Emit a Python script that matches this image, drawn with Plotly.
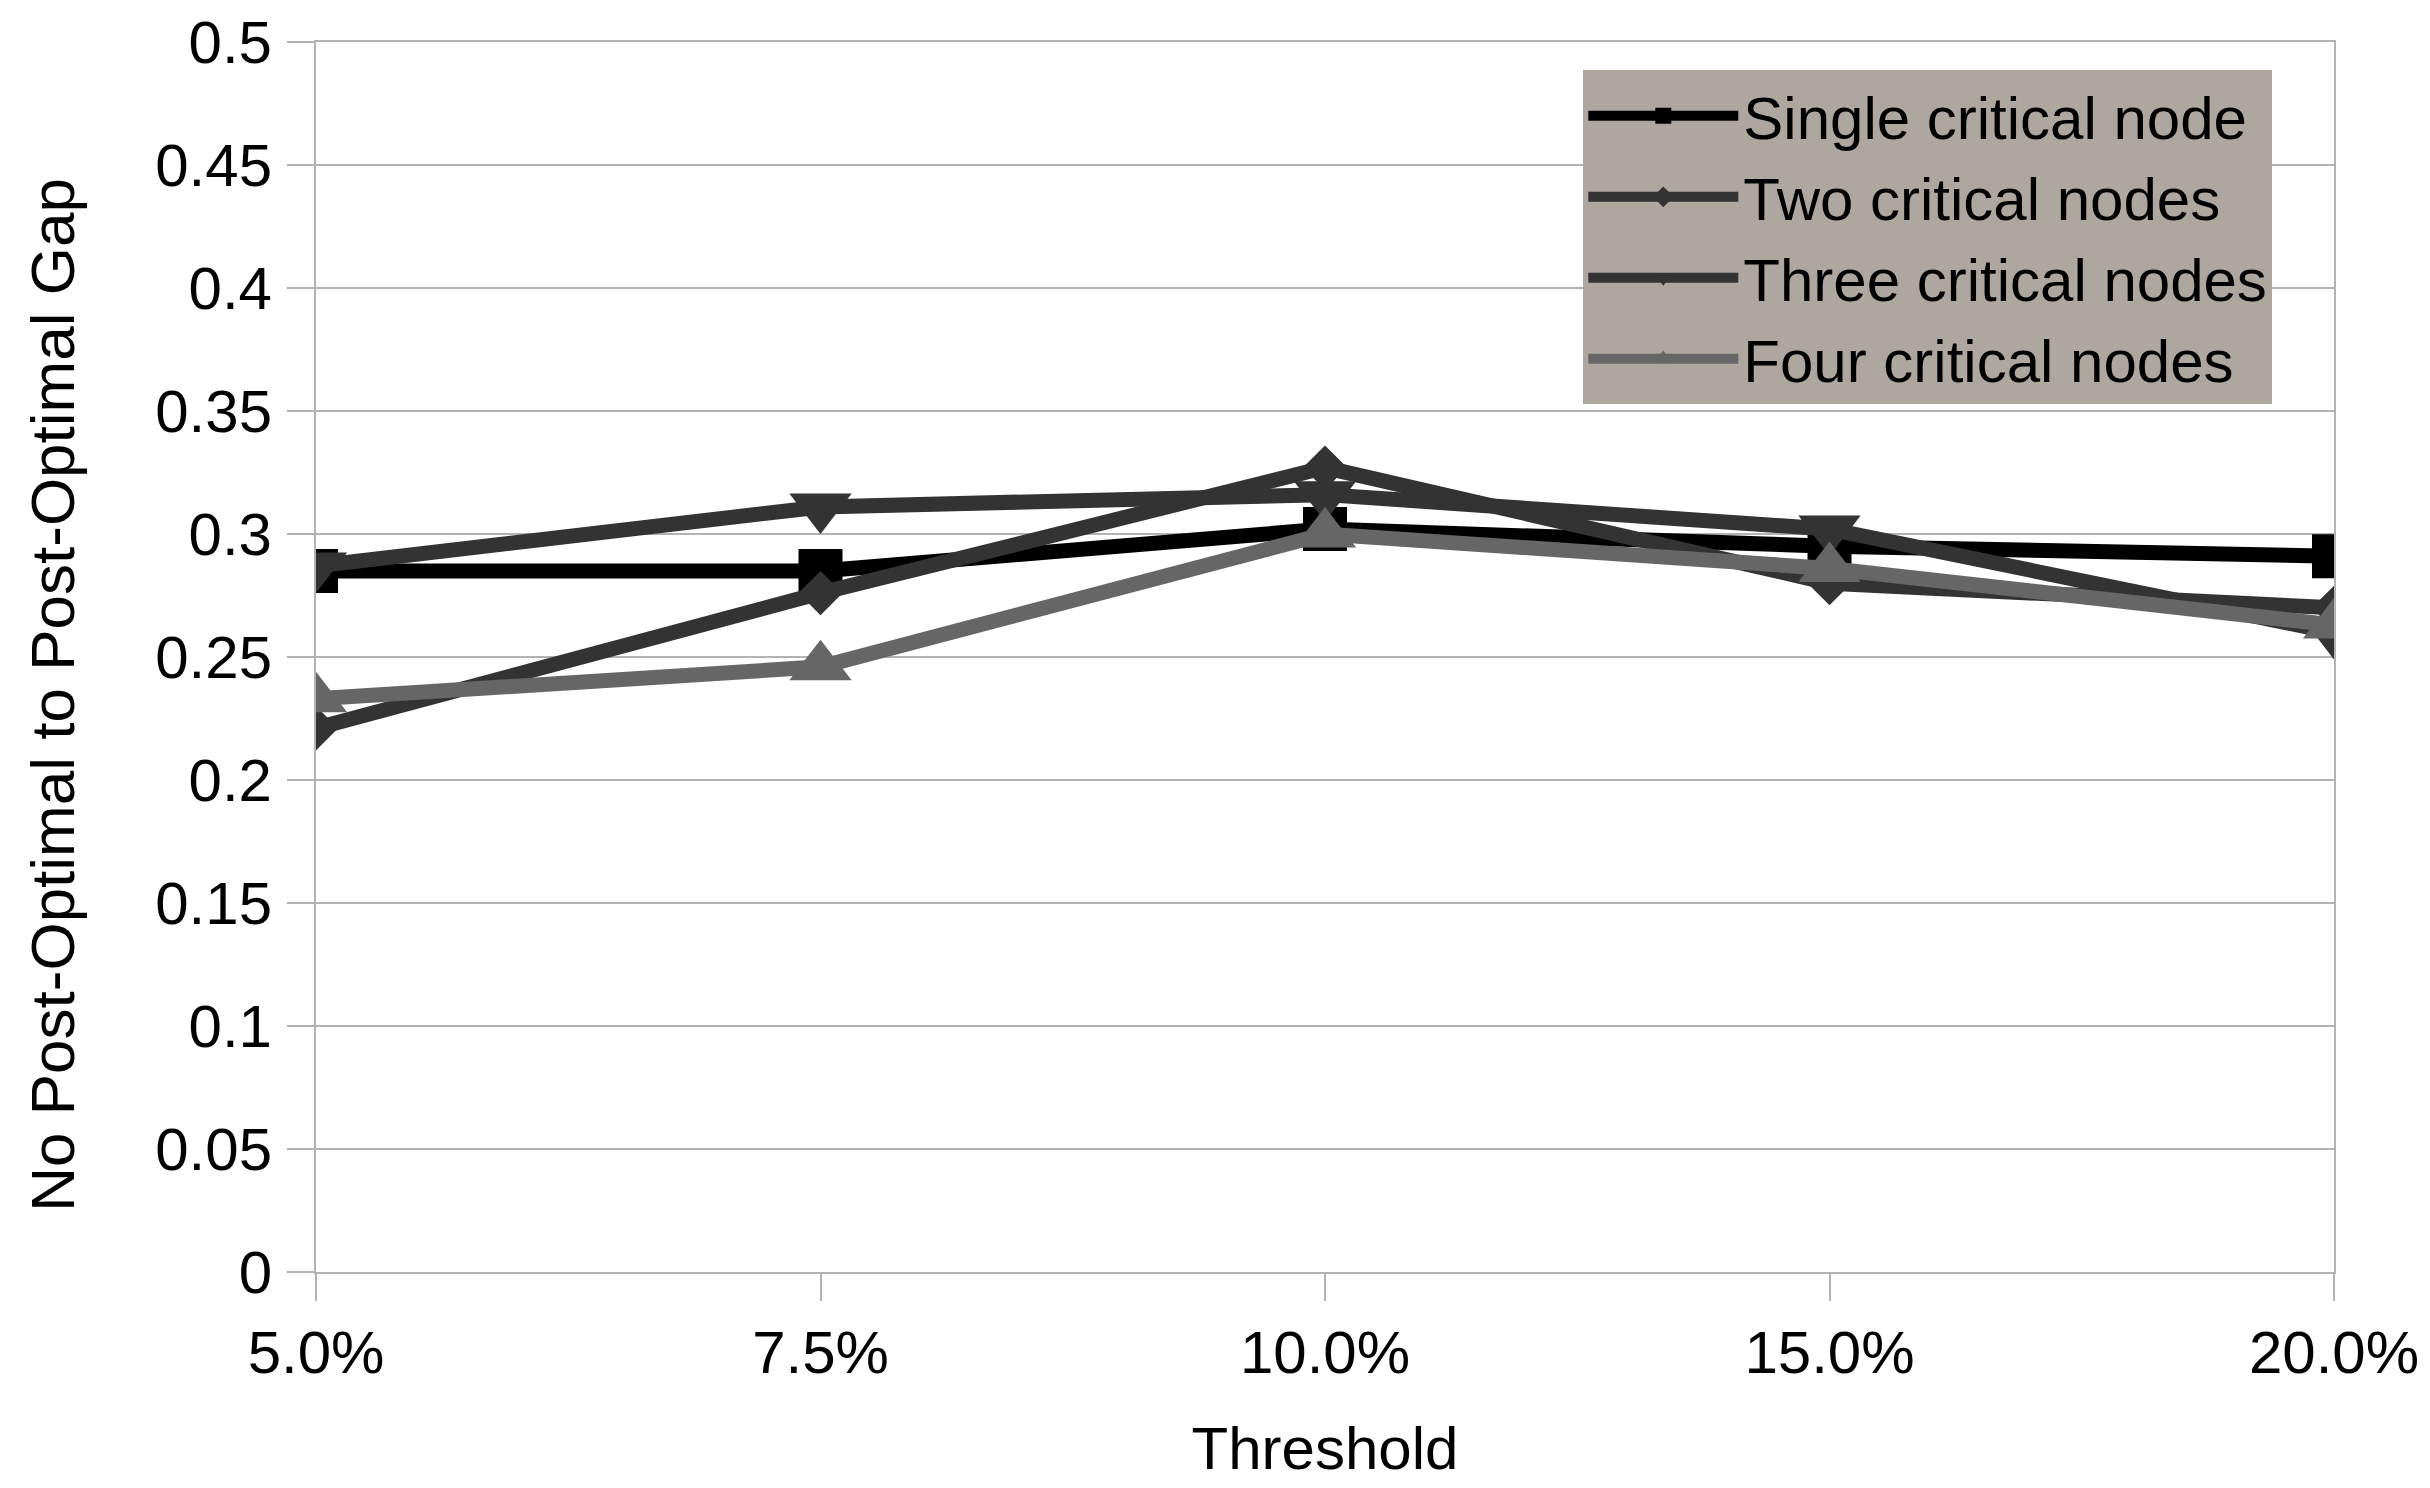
import plotly.graph_objects as go

# data
thresholds = ["5.0%", "7.5%", "10.0%", "15.0%", "20.0%"]
single_node = [0.285, 0.285, 0.302, 0.295, 0.291]
two_nodes = [0.221, 0.276, 0.327, 0.280, 0.270]
three_nodes = [0.287, 0.311, 0.316, 0.302, 0.260]
four_nodes = [0.233, 0.246, 0.300, 0.286, 0.263]

series = [
    ("Single critical node", single_node, "#000000", "square", 44),
    ("Two critical nodes", two_nodes, "#333333", "diamond", 34),
    ("Three critical nodes", three_nodes, "#333333", "triangle-down", 54),
    ("Four critical nodes", four_nodes, "#666666", "triangle-up", 54),
]

FONT = "Liberation Sans, Arial, sans-serif"
GRID = "#b3b3b3"

fig = go.Figure()
for name, values, color, symbol, size in series:
    fig.add_trace(
        go.Scatter(
            x=thresholds,
            y=values,
            mode="lines+markers",
            name=name,
            line=dict(color=color, width=15),
            marker=dict(symbol=symbol, size=size, color=color),
        )
    )

# y title as an annotation so it can sit a bit below the plot centre, like the original
fig.add_annotation(
    text="No Post-Optimal to Post-Optimal Gap",
    textangle=-90,
    xref="paper", yref="paper",
    x=-0.131, y=0.469,
    xanchor="center", yanchor="middle",
    showarrow=False,
    font=dict(family=FONT, size=62, color="black"),
)

fig.update_layout(
    width=2430,
    height=1488,
    paper_bgcolor="white",
    plot_bgcolor="white",
    font=dict(family=FONT, size=60, color="black"),
    margin=dict(l=308, r=104, t=34, b=224, autoexpand=False),
    showlegend=True,
    legend=dict(
        x=0.628,
        y=0.977,
        xanchor="left",
        yanchor="top",
        bgcolor="#ada7a0",
        borderwidth=0,
        font=dict(family=FONT, size=60, color="black"),
        itemwidth=150,
        itemsizing="trace",
        tracegroupgap=0,
    ),
    xaxis=dict(
        type="category",
        range=[0, 4],
        showgrid=False,
        zeroline=False,
        showline=True,
        linecolor=GRID,
        linewidth=2,
        mirror=True,
        ticks="outside",
        ticklen=27,
        tickwidth=2,
        tickcolor=GRID,
        title=dict(text="Threshold", font=dict(size=60), standoff=42),
    ),
    yaxis=dict(
        range=[0, 0.5],
        dtick=0.05,
        tickformat="~g",
        showgrid=True,
        gridcolor=GRID,
        gridwidth=2,
        zeroline=False,
        showline=True,
        linecolor=GRID,
        linewidth=2,
        mirror=True,
        ticks="outside",
        ticklen=27,
        tickwidth=2,
        tickcolor=GRID,
        ticklabelstandoff=3,
    ),
)

fig.write_html("out.html")
